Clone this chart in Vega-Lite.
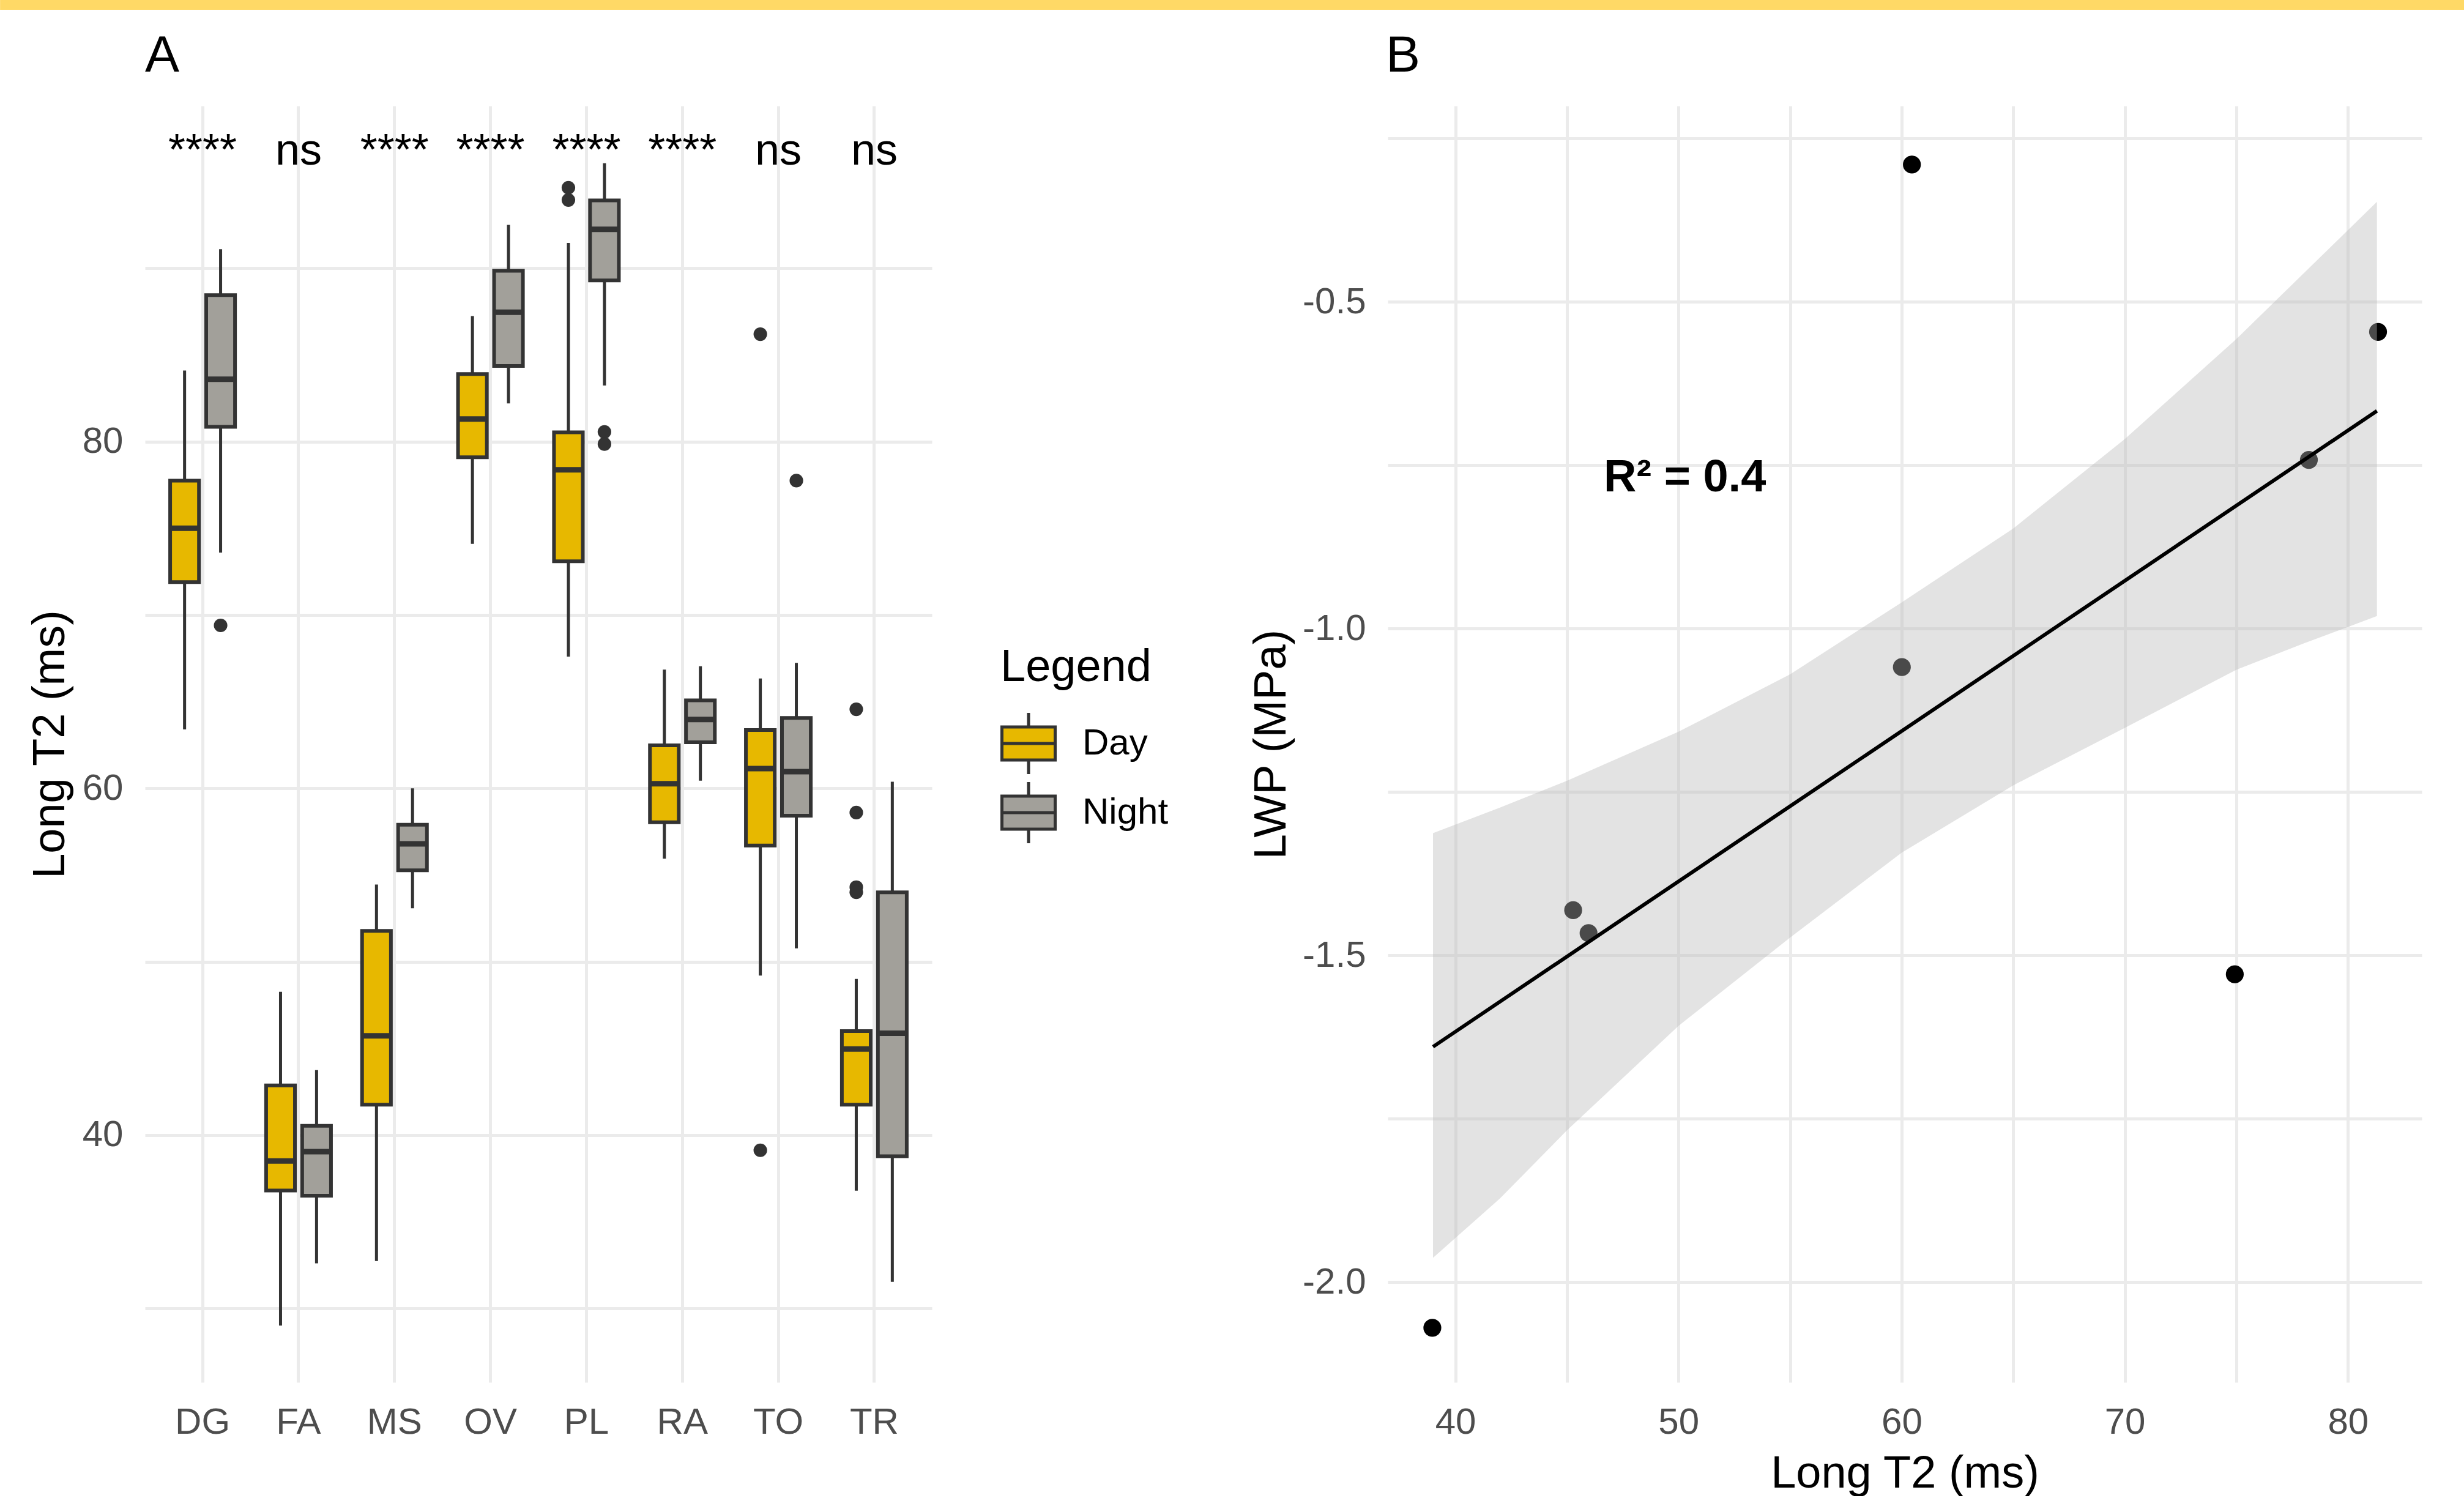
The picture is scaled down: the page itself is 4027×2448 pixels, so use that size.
{
  "$schema": "https://vega.github.io/schema/vega-lite/v6.json",
  "padding": 0,
  "background": "#FFFFFF",
  "spacing": 34,
  "datasets": {
    "boxes": [
      {"site": "DG", "period": "Day", "lower": 63.4, "q1": 71.9, "median": 75.0, "q3": 77.75, "upper": 84.1},
      {"site": "DG", "period": "Night", "lower": 73.6, "q1": 80.85, "median": 83.6, "q3": 88.45, "upper": 91.1},
      {"site": "FA", "period": "Day", "lower": 29.0, "q1": 36.8, "median": 38.5, "q3": 42.86, "upper": 48.26},
      {"site": "FA", "period": "Night", "lower": 32.6, "q1": 36.5, "median": 39.04, "q3": 40.53, "upper": 43.74},
      {"site": "MS", "period": "Day", "lower": 32.73, "q1": 41.75, "median": 45.72, "q3": 51.77, "upper": 54.45},
      {"site": "MS", "period": "Night", "lower": 53.08, "q1": 55.27, "median": 56.8, "q3": 57.9, "upper": 60.0},
      {"site": "OV", "period": "Day", "lower": 74.1, "q1": 79.1, "median": 81.3, "q3": 83.9, "upper": 87.24},
      {"site": "OV", "period": "Night", "lower": 82.2, "q1": 84.37, "median": 87.46, "q3": 89.86, "upper": 92.5},
      {"site": "PL", "period": "Day", "lower": 67.6, "q1": 73.1, "median": 78.37, "q3": 80.54, "upper": 91.46},
      {"site": "PL", "period": "Night", "lower": 83.24, "q1": 89.3, "median": 92.25, "q3": 93.92, "upper": 96.06},
      {"site": "RA", "period": "Day", "lower": 55.94, "q1": 58.04, "median": 60.26, "q3": 62.48, "upper": 66.85},
      {"site": "RA", "period": "Night", "lower": 60.44, "q1": 62.66, "median": 63.97, "q3": 65.07, "upper": 67.04},
      {"site": "TO", "period": "Day", "lower": 49.2, "q1": 56.7, "median": 61.14, "q3": 63.36, "upper": 66.34},
      {"site": "TO", "period": "Night", "lower": 50.77, "q1": 58.42, "median": 60.96, "q3": 64.06, "upper": 67.24},
      {"site": "TR", "period": "Day", "lower": 36.79, "q1": 41.75, "median": 44.96, "q3": 45.99, "upper": 49.0},
      {"site": "TR", "period": "Night", "lower": 31.53, "q1": 38.77, "median": 45.87, "q3": 54.0, "upper": 60.38}
    ],
    "outliers": [
      {"site": "DG", "period": "Night", "value": 69.4},
      {"site": "PL", "period": "Day", "value": 94.65},
      {"site": "PL", "period": "Day", "value": 93.94},
      {"site": "PL", "period": "Night", "value": 80.56},
      {"site": "PL", "period": "Night", "value": 79.86},
      {"site": "TO", "period": "Day", "value": 86.2},
      {"site": "TO", "period": "Day", "value": 39.12},
      {"site": "TO", "period": "Night", "value": 77.75},
      {"site": "TR", "period": "Day", "value": 64.56},
      {"site": "TR", "period": "Day", "value": 58.6},
      {"site": "TR", "period": "Day", "value": 54.3},
      {"site": "TR", "period": "Day", "value": 54.0}
    ],
    "labels": [
      {"site": "DG", "label": "****"},
      {"site": "FA", "label": "ns"},
      {"site": "MS", "label": "****"},
      {"site": "OV", "label": "****"},
      {"site": "PL", "label": "****"},
      {"site": "RA", "label": "****"},
      {"site": "TO", "label": "ns"},
      {"site": "TR", "label": "ns"}
    ],
    "points": [
      {"t2": 60.46, "lwp": -0.290},
      {"t2": 81.35, "lwp": -0.546},
      {"t2": 78.25, "lwp": -0.742},
      {"t2": 60.01, "lwp": -1.059},
      {"t2": 45.28, "lwp": -1.431},
      {"t2": 45.97, "lwp": -1.466},
      {"t2": 74.93, "lwp": -1.529},
      {"t2": 38.97, "lwp": -2.070}
    ],
    "band": [
      {"t2": 39.0, "lo": -1.963, "hi": -1.313},
      {"t2": 42.0, "lo": -1.872, "hi": -1.274},
      {"t2": 45.0, "lo": -1.768, "hi": -1.233},
      {"t2": 50.0, "lo": -1.608, "hi": -1.158},
      {"t2": 55.0, "lo": -1.473, "hi": -1.070},
      {"t2": 60.0, "lo": -1.343, "hi": -0.960},
      {"t2": 65.0, "lo": -1.240, "hi": -0.847},
      {"t2": 70.0, "lo": -1.152, "hi": -0.710},
      {"t2": 75.0, "lo": -1.063, "hi": -0.557},
      {"t2": 78.0, "lo": -1.023, "hi": -0.457},
      {"t2": 81.3, "lo": -0.981, "hi": -0.347}
    ],
    "fit": [
      {"t2": 39.0, "lwp": -1.640},
      {"t2": 81.3, "lwp": -0.667}
    ],
    "r2": [
      {"t2": 46.65, "lwp": -0.790, "label": "R² = 0.4"}
    ]
  },
  "config": {
    "font": "Liberation Sans",
    "view": {"stroke": null},
    "axis": {
      "domain": false, "ticks": false, "tickSize": 0,
      "gridColor": "#EBEBEB", "gridWidth": 5,
      "labelFont": "Liberation Sans", "labelFontSize": 60, "labelColor": "#4D4D4D", "labelPadding": 36,
      "titleFont": "Liberation Sans", "titleFontSize": 74, "titleFontWeight": "normal", "titleColor": "#000000",
      "labelOverlap": false
    },
    "title": {"font": "Liberation Sans", "fontSize": 84, "fontWeight": "normal", "anchor": "start", "frame": "group", "baseline": "alphabetic", "offset": 38, "color": "#000000"}
  },
  "vconcat": [
    {
      "width": 3790, "height": 16,
      "view": {"fill": "#FFD966", "stroke": null},
      "data": {"values": [{"part": "strip"}]},
      "mark": {"type": "rect", "color": "#FFD966", "clip": false},
      "encoding": {
        "x": {"datum": -0.0625, "type": "quantitative", "scale": {"domain": [0, 1], "nice": false, "zero": false}, "axis": null},
        "x2": {"datum": 1}
      }
    },
    {
      "spacing": 745,
      "bounds": "flush",
      "hconcat": [
        {
          "width": 1286, "height": 2086,
          "title": {"text": "A", "dx": 0},
          "encoding": {
            "x": {"field": "site", "type": "nominal", "sort": ["DG","FA","MS","OV","PL","RA","TO","TR"],
                  "scale": {"paddingInner": 0.324, "paddingOuter": 0.262},
                  "axis": {"title": null, "labelAngle": 0, "grid": true, "bandPosition": 0.5}}
          },
          "layer": [
            {
              "data": {"name": "boxes"},
              "mark": {"type": "rule", "color": "#333333", "strokeWidth": 5},
              "encoding": {
                "xOffset": {"field": "period", "type": "nominal", "sort": ["Day","Night"], "scale": {"paddingInner": 0.2, "paddingOuter": 0}},
                "y": {"field": "lower", "type": "quantitative", "title": "Long T2 (ms)",
                      "scale": {"domain": [25.73, 99.37], "nice": false, "zero": false},
                      "axis": {"values": [30,40,50,60,70,80,90], "labelExpr": "datum.value % 20 == 0 ? datum.label : ''", "titlePadding": 14}},
                "y2": {"field": "upper"}
              }
            },
            {
              "data": {"name": "boxes"},
              "mark": {"type": "bar", "stroke": "#333333", "strokeWidth": 6, "opacity": 1},
              "encoding": {
                "xOffset": {"field": "period", "type": "nominal", "sort": ["Day","Night"]},
                "y": {"field": "q1", "type": "quantitative", "title": "Long T2 (ms)"},
                "y2": {"field": "q3"},
                "fill": {"field": "period", "type": "nominal",
                         "scale": {"domain": ["Day","Night"], "range": ["#E7B800","#A2A09A"]},
                         "legend": {"title": "Legend", "orient": "none", "legendX": 1398, "legendY": 1055,
                                    "titleFontSize": 74, "titleFontWeight": "normal", "titleColor": "#000000", "titleFont": "Liberation Sans", "titleLimit": 2000,
                                    "labelFontSize": 60, "labelColor": "#000000", "labelFont": "Liberation Sans", "labelLimit": 2000,
                                    "symbolType": "M-1,-0.62H1V0.62H-1Z M-1,0H1 M0,-0.62V-1.15 M0,0.62V1.15",
                                    "symbolSize": 7569, "symbolStrokeColor": "#333333", "symbolStrokeWidth": 5, "symbolOpacity": 1,
                                    "labelOffset": 42, "rowPadding": -9, "titlePadding": 40, "padding": 0}}
              }
            },
            {
              "data": {"name": "boxes"},
              "mark": {"type": "tick", "orient": "horizontal", "color": "#333333", "thickness": 9, "size": 47, "opacity": 1},
              "encoding": {
                "xOffset": {"field": "period", "type": "nominal", "sort": ["Day","Night"]},
                "y": {"field": "median", "type": "quantitative", "title": "Long T2 (ms)"}
              }
            },
            {
              "data": {"name": "outliers"},
              "mark": {"type": "circle", "color": "#333333", "size": 490, "opacity": 1},
              "encoding": {
                "xOffset": {"field": "period", "type": "nominal", "sort": ["Day","Night"]},
                "y": {"field": "value", "type": "quantitative", "title": "Long T2 (ms)"}
              }
            },
            {
              "data": {"name": "labels"},
              "mark": {"type": "text", "fontSize": 72, "color": "#000000", "baseline": "alphabetic", "align": "center"},
              "encoding": {
                "y": {"datum": 95.97, "type": "quantitative"},
                "text": {"field": "label"}
              }
            }
          ]
        },
        {
          "width": 1690, "height": 2086,
          "title": {"text": "B", "dx": -3},
          "layer": [
            {
              "data": {"name": "points"},
              "mark": {"type": "circle", "color": "#000000", "size": 855, "opacity": 1},
              "encoding": {
                "x": {"field": "t2", "type": "quantitative", "title": "Long T2 (ms)",
                      "scale": {"domain": [36.97, 83.31], "nice": false, "zero": false},
                      "axis": {"values": [40,45,50,55,60,65,70,75,80], "labelExpr": "datum.value % 10 == 0 ? datum.label : ''", "titlePadding": 18, "labelFlush": false}},
                "y": {"field": "lwp", "type": "quantitative", "title": "LWP (MPa)",
                      "scale": {"domain": [-2.1535, -0.2002], "nice": false, "zero": false},
                      "axis": {"values": [-2,-1.75,-1.5,-1.25,-1,-0.75,-0.5,-0.25],
                               "labelExpr": "(datum.value * 2) % 1 == 0 ? replace(format(datum.value, '.1f'), '\u2212', '-') : ''",
                               "titlePadding": 12}}
              }
            },
            {
              "data": {"name": "band"},
              "mark": {"type": "area", "color": "#B9B9B9", "opacity": 0.4},
              "encoding": {
                "x": {"field": "t2", "type": "quantitative", "title": "Long T2 (ms)"},
                "y": {"field": "lo", "type": "quantitative", "title": "LWP (MPa)"},
                "y2": {"field": "hi"}
              }
            },
            {
              "data": {"name": "fit"},
              "mark": {"type": "line", "color": "#000000", "strokeWidth": 6},
              "encoding": {
                "x": {"field": "t2", "type": "quantitative", "title": "Long T2 (ms)"},
                "y": {"field": "lwp", "type": "quantitative", "title": "LWP (MPa)"}
              }
            },
            {
              "data": {"name": "r2"},
              "mark": {"type": "text", "fontSize": 74, "fontWeight": "bold", "align": "left", "baseline": "alphabetic", "color": "#000000"},
              "encoding": {
                "x": {"field": "t2", "type": "quantitative", "title": "Long T2 (ms)"},
                "y": {"field": "lwp", "type": "quantitative", "title": "LWP (MPa)"},
                "text": {"field": "label"}
              }
            }
          ]
        }
      ]
    }
  ]
}
